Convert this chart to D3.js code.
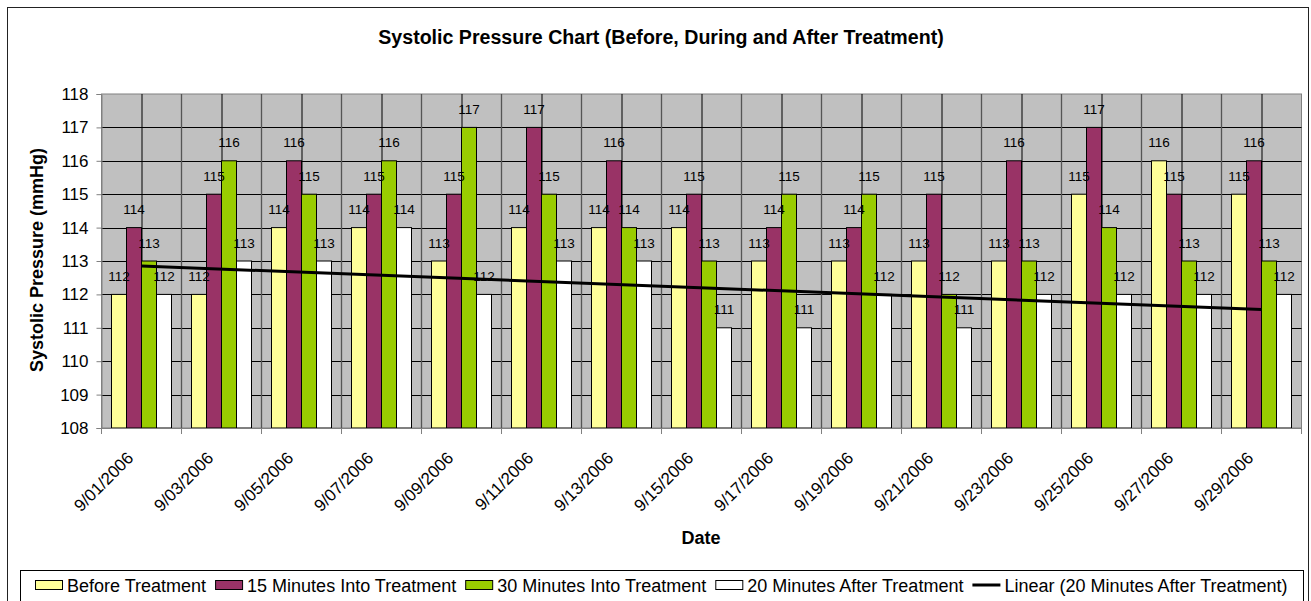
<!DOCTYPE html>
<html>
<head>
<meta charset="utf-8">
<script src="https://cdn.jsdelivr.net/npm/d3@7"></script>
<style>
  html, body { margin: 0; padding: 0; background: #fff; }
  svg { display: block; font-family: "Liberation Sans", Arial, sans-serif; }
</style>
</head>
<body>
<svg id="chart" width="1311" height="601"></svg>
<script>
const dates = ["9/01/2006","9/03/2006","9/05/2006","9/07/2006","9/09/2006","9/11/2006","9/13/2006","9/15/2006","9/17/2006","9/19/2006","9/21/2006","9/23/2006","9/25/2006","9/27/2006","9/29/2006"];
const seriesNames = ["Before Treatment","15 Minutes Into Treatment","30 Minutes Into Treatment","20 Minutes After Treatment"];
const beforeTreatment = [112,112,114,114,113,114,114,114,113,113,113,113,115,116,115];
const min15Into = [114,115,116,115,115,117,116,115,114,114,115,116,117,115,116];
const min30Into = [113,116,115,116,117,115,114,113,115,115,112,113,114,113,113];
const min20After = [112,113,113,114,112,113,113,111,111,112,111,112,112,112,112];
const yTicks = [108,109,110,111,112,113,114,115,116,117,118];
const trendName = "Linear (20 Minutes After Treatment)";
const titleText = "Systolic Pressure Chart (Before, During and After Treatment)";
const yTitle = "Systolic Pressure (mmHg)";
const xTitle = "Date";

const colors = ["#FFFF99","#993366","#99CC00","#FFFFFF"];
const seriesValues = [beforeTreatment, min15Into, min30Into, min20After];

const svg = d3.select("#chart");
const plot = {left: 101.5, right: 1301.5, top: 94, bottom: 428};

// outer border
svg.append("rect").attr("x",7.5).attr("y",7.5).attr("width",1301).attr("height",640)
  .attr("fill","#fff").attr("stroke","#222").attr("stroke-width",1);

const x = d3.scaleBand().domain(dates).range([plot.left, plot.right]).paddingInner(0).paddingOuter(0);
const xs = d3.scaleBand().domain(d3.range(4)).range([10, 70]).padding(0);
const y = d3.scaleLinear().domain([108,118]).range([plot.bottom, plot.top]);

// plot background
svg.append("rect").attr("x",plot.left).attr("y",plot.top)
  .attr("width",plot.right-plot.left).attr("height",plot.bottom-plot.top)
  .attr("fill","#C0C0C0").attr("stroke","#808080");

// horizontal gridlines
svg.append("g").selectAll("line").data(yTicks.filter(t => t>108 && t<118)).join("line")
  .attr("x1",plot.left).attr("x2",plot.right)
  .attr("y1",d=>Math.round(y(d))+0.5).attr("y2",d=>Math.round(y(d))+0.5)
  .attr("stroke","#000").attr("stroke-width",1);

// vertical gridlines: boundaries and centers
svg.append("g").selectAll("line").data(dates.slice(1)).join("line")
  .attr("x1",d=>x(d)).attr("x2",d=>x(d))
  .attr("y1",plot.top).attr("y2",plot.bottom)
  .attr("stroke","#555").attr("stroke-width",1.3);
svg.append("g").selectAll("line").data(dates).join("line")
  .attr("x1",d=>x(d)+x.bandwidth()/2+0.5).attr("x2",d=>x(d)+x.bandwidth()/2+0.5)
  .attr("y1",plot.top).attr("y2",plot.bottom)
  .attr("stroke","#000").attr("stroke-width",1);

// bars
const barData = [];
seriesValues.forEach((vals, si) => vals.forEach((v, i) => barData.push({si, i, v})));
svg.append("g").selectAll("rect").data(barData).join("rect")
  .attr("x", d => x(dates[d.i]) + xs(d.si))
  .attr("width", xs.bandwidth())
  .attr("y", d => y(d.v))
  .attr("height", d => y(108) - y(d.v))
  .attr("fill", d => colors[d.si])
  .attr("stroke", "#000").attr("stroke-width", 1);

// data labels
svg.append("g").selectAll("text").data(barData).join("text")
  .attr("x", d => x(dates[d.i]) + xs(d.si) + xs.bandwidth()/2)
  .attr("y", d => y(d.v) - 13.5)
  .attr("text-anchor","middle")
  .attr("font-size","13.5px").attr("fill","#000")
  .text(d => d.v);

// axes
const yAxis = d3.axisLeft(y).tickValues(yTicks).tickSize(5).tickPadding(8).tickFormat(d3.format("d"));
const gy = svg.append("g").attr("transform",`translate(${plot.left},0)`).call(yAxis);
gy.select(".domain").attr("stroke","#808080");
gy.selectAll(".tick line").attr("stroke","#808080");
gy.selectAll(".tick text").attr("font-size","17px").attr("fill","#000").attr("font-family","Liberation Sans, Arial, sans-serif");

const gx = svg.append("g").attr("transform",`translate(0,${plot.bottom})`);
gx.append("line").attr("x1",plot.left).attr("x2",plot.right).attr("y1",0.5).attr("y2",0.5).attr("stroke","#808080");
gx.selectAll("line.tk").data(dates.concat(["_end"])).join("line").attr("class","tk")
  .attr("x1",(d,i)=>plot.left + i*x.bandwidth()).attr("x2",(d,i)=>plot.left + i*x.bandwidth())
  .attr("y1",0).attr("y2",6).attr("stroke","#808080");
gx.selectAll("text").data(dates).join("text")
  .attr("transform", d => `translate(${x(d)+x.bandwidth()/2-7},31) rotate(-45)`)
  .attr("text-anchor","end").attr("font-size","17px").attr("fill","#000")
  .text(d => d);

// trendline: least squares fit of the 20 Minutes After series
const n = min20After.length;
const xi = d3.range(1, n+1);
const mx = d3.mean(xi), my = d3.mean(min20After);
const slope = d3.sum(xi.map((v,k)=>(v-mx)*(min20After[k]-my))) / d3.sum(xi.map(v=>(v-mx)*(v-mx)));
const icpt = my - slope*mx;
const trendPts = [1, n].map(k => ({d: dates[k-1], v: icpt + slope*k}));
svg.append("path")
  .attr("d", d3.line().x(p => x(p.d)+x.bandwidth()/2).y(p => y(p.v))(trendPts))
  .attr("stroke","#000").attr("stroke-width",3).attr("fill","none");

// titles
svg.append("text").attr("x",661).attr("y",44).attr("text-anchor","middle")
  .attr("font-size","19.6px").attr("font-weight","bold").text(titleText);
svg.append("text").attr("transform","translate(43,260) rotate(-90)").attr("text-anchor","middle")
  .attr("font-size","18px").attr("font-weight","bold").text(yTitle);
svg.append("text").attr("x",701).attr("y",544).attr("text-anchor","middle")
  .attr("font-size","18px").attr("font-weight","bold").text(xTitle);

// legend
const lg = svg.append("g");
lg.append("rect").attr("x",20.5).attr("y",570.5).attr("width",1283).attr("height",50)
  .attr("fill","#fff").attr("stroke","#000");
let lx = 35;
const items = seriesNames.map((nm, i) => ({name: nm, type: "bar", color: colors[i]})).concat([{name: trendName, type: "line"}]);
items.forEach(it => {
  if (it.type === "bar") {
    lg.append("rect").attr("x",lx+0.5).attr("y",580.5).attr("width",27).attr("height",9)
      .attr("fill",it.color).attr("stroke","#000");
  } else {
    lg.append("line").attr("x1",lx).attr("x2",lx+28).attr("y1",585).attr("y2",585)
      .attr("stroke","#000").attr("stroke-width",3);
  }
  lx += 32;
  const t = lg.append("text").attr("x",lx).attr("y",592).attr("font-size","18px").attr("fill","#000").text(it.name);
  lx += t.node().getComputedTextLength() + 9;
});
</script>
</body>
</html>
